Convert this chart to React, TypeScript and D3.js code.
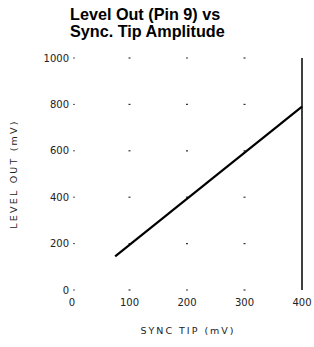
import * as d3 from "d3";

const xTicks = [0, 100, 200, 300, 400];
const yTicks = [0, 200, 400, 600, 800, 1000];
// level out (mV) vs sync tip (mV)
const syncTip = [75, 400];
const levelOut = [145, 790];

export default function App() {
  const width = 314;
  const height = 347;
  const x = d3.scaleLinear().domain([0, 400]).range([72, 302]);
  const y = d3.scaleLinear().domain([0, 1000]).range([290, 58]);
  const pts: [number, number][] = syncTip.map((s, i) => [s, levelOut[i]]);
  const line = d3
    .line<[number, number]>()
    .x((d) => x(d[0]))
    .y((d) => y(d[1]));
  const tickFont = "'DejaVu Sans', sans-serif";
  const inner = xTicks.filter((t) => t > 0 && t < 400);

  return (
    <svg
      width={width}
      height={height}
      style={{ position: "absolute", left: 0, top: 0, background: "#fff" }}
    >
      <g fontFamily="Arial, 'Liberation Sans', sans-serif" fontWeight="bold" fontSize={16.2} fill="#000">
        <text x={70} y={20}>Level Out (Pin 9) vs</text>
        <text x={70} y={37}>Sync. Tip Amplitude</text>
      </g>

      {/* grid dots */}
      {inner.map((xt) =>
        yTicks.map((yt) => (
          <line
            key={`${xt}-${yt}`}
            x1={x(xt) - 1}
            x2={x(xt) + 1}
            y1={y(yt)}
            y2={y(yt)}
            stroke="#333"
            strokeWidth={1.2}
          />
        )),
      )}
      {/* y tick marks */}
      {yTicks.map((t) => (
        <line key={t} x1={x(0) + 1} x2={x(0) + 3} y1={y(t)} y2={y(t)} stroke="#555" strokeWidth={1} />
      ))}

      {/* right border */}
      <line x1={x(400)} x2={x(400)} y1={y(1000)} y2={y(0)} stroke="#000" strokeWidth={1.5} />

      <path d={line(pts) ?? ""} fill="none" stroke="#000" strokeWidth={2.2} />

      <g fontFamily={tickFont} fontSize={10} fill="#222">
        {yTicks.map((t) => (
          <text key={t} x={x(0) - 3} y={y(t) + 3.5} textAnchor="end">
            {t}
          </text>
        ))}
        {xTicks.map((t) => (
          <text key={t} x={x(t)} y={y(0) + 16} textAnchor="middle">
            {t}
          </text>
        ))}
        <text x={188} y={334} textAnchor="middle" fontSize={9.5} letterSpacing={2}>
          SYNC TIP (mV)
        </text>
        <text
          transform={`translate(17,174) rotate(-90)`}
          textAnchor="middle"
          fontSize={9.5}
          letterSpacing={2.2}
        >
          LEVEL OUT (mV)
        </text>
      </g>
    </svg>
  );
}
